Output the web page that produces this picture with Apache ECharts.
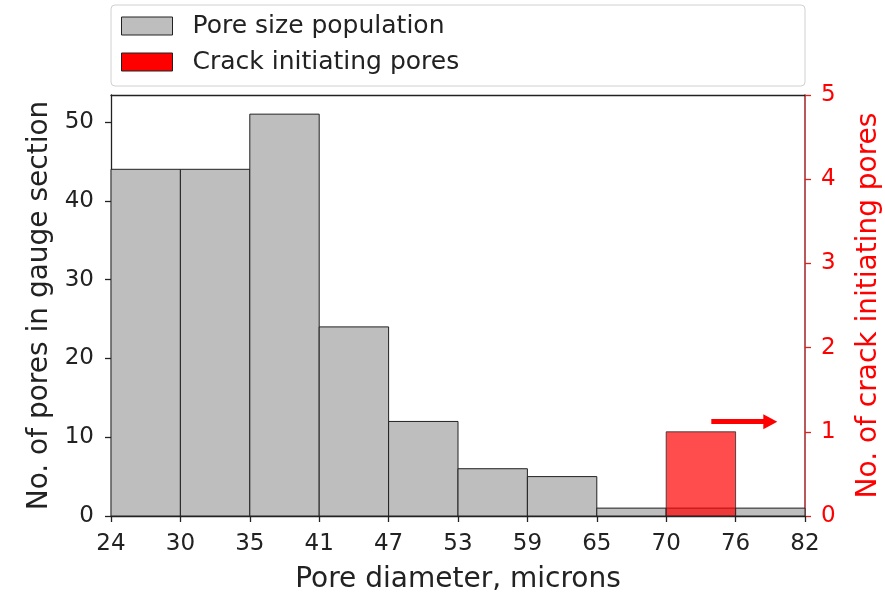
<!DOCTYPE html>
<html>
<head>
<meta charset="utf-8">
<script src="https://cdn.jsdelivr.net/npm/echarts@6/dist/echarts.min.js"></script>
<style>
  html, body { margin: 0; padding: 0; background: #fff; }
  #chart { width: 885px; height: 593px; }
</style>
</head>
<body>
<div id="chart"></div>
<script>
// Histogram bin edges (microns) shown as x tick labels
const binEdges = ['24', '30', '35', '41', '47', '53', '59', '65', '70', '76', '82'];
// Pore counts per bin in the gauge section
const poreCounts = [44, 44, 51, 24, 12, 6, 5, 1, 1, 1];
// Crack initiating pores: [bin index, count]
const crackBins = [[8, 1]];
// Arrow pointing to the right-hand axis (bin-index units, right-axis value)
const arrowFrom = [8.65, 1.12];
const arrowTo = [9.5, 1.12];

const FONT = 'DejaVu Sans';
const chart = echarts.init(document.getElementById('chart'));

function binRect(params, api, yValue) {
  const i = api.value(0);
  const p0 = api.coord([i, 0]);
  const p1 = api.coord([i + 1, yValue]);
  return { x: p0[0], y: p1[1], width: p1[0] - p0[0], height: p0[1] - p1[1] };
}

const option = {
  animation: false,
  textStyle: { fontFamily: FONT },
  grid: { left: 111, right: 80, top: 95, bottom: 77, containLabel: false, outerBoundsMode: 'none' },
  graphic: [{
    type: 'rect',
    shape: { x: 111, y: 5, width: 694, height: 81, r: 4 },
    style: { fill: '#fff', stroke: '#d0d0d0', lineWidth: 1 },
    z: -1
  }],
  legend: {
    left: 121, top: 12, padding: 0,
    orient: 'vertical',
    itemWidth: 51, itemHeight: 18, itemGap: 8,
    icon: 'rect',
    textStyle: { fontFamily: FONT, fontSize: 25, color: '#222', lineHeight: 28, padding: [0, 0, 0, 15] },
    data: [
      { name: 'Pore size population', itemStyle: { color: '#bebebe', borderColor: '#222', borderWidth: 1 } },
      { name: 'Crack initiating pores', itemStyle: { color: '#ff0000', borderColor: '#222', borderWidth: 1 } }
    ]
  },
  xAxis: [{
    type: 'value', min: 0, max: binEdges.length - 1, interval: 1,
    name: 'Pore diameter, microns', nameLocation: 'middle', nameGap: 50,
    nameTextStyle: { fontFamily: FONT, fontSize: 28, color: '#222' },
    axisLine: { onZero: false, lineStyle: { color: '#222', width: 1.3 } },
    axisTick: { show: true, length: 6, lineStyle: { color: '#222', width: 1.3 } },
    axisLabel: { fontFamily: FONT, fontSize: 23, color: '#222', margin: 17,
                 formatter: v => binEdges[Math.round(v)] },
    splitLine: { show: false }
  }, {
    type: 'value', position: 'top', min: 0, max: binEdges.length - 1,
    axisLine: { show: true, onZero: false, lineStyle: { color: '#222', width: 1.3 } },
    axisTick: { show: false }, axisLabel: { show: false }, splitLine: { show: false }
  }],
  yAxis: [{
    type: 'value', min: 0, max: 53.43, interval: 10, position: 'left',
    name: 'No. of pores in gauge section', nameLocation: 'middle', nameGap: 48,
    nameTextStyle: { fontFamily: FONT, fontSize: 28, color: '#222' },
    axisLine: { show: true, onZero: false, lineStyle: { color: '#222', width: 1.3 } },
    axisTick: { show: true, length: 6, lineStyle: { color: '#222', width: 1.3 } },
    axisLabel: { fontFamily: FONT, fontSize: 23, color: '#222', margin: 17,
                 showMaxLabel: false },
    splitLine: { show: false }
  }, {
    type: 'value', min: 0, max: 5, interval: 1, position: 'right',
    name: 'No. of crack initiating pores', nameLocation: 'middle', nameGap: 50,
    nameRotate: 90,
    nameTextStyle: { fontFamily: FONT, fontSize: 28, color: '#ff0000' },
    axisLine: { show: true, onZero: false, lineStyle: { color: '#a83030', width: 1.6 } },
    axisTick: { show: true, length: 6, lineStyle: { color: '#e02020', width: 1.3 } },
    axisLabel: { fontFamily: FONT, fontSize: 23, color: '#ff0000', margin: 16 },
    splitLine: { show: false }
  }],
  series: [{
    name: 'Pore size population',
    type: 'custom',
    xAxisIndex: 0, yAxisIndex: 0,
    data: poreCounts.map((v, i) => [i, v]),
    encode: { x: 0, y: 1 },
    itemStyle: { color: '#bebebe' },
    renderItem: (params, api) => ({
      type: 'rect',
      shape: binRect(params, api, api.value(1)),
      style: { fill: '#bebebe', stroke: '#222', lineWidth: 1 }
    })
  }, {
    name: 'Crack initiating pores',
    type: 'custom',
    xAxisIndex: 0, yAxisIndex: 1,
    data: crackBins,
    encode: { x: 0, y: 1 },
    itemStyle: { color: '#ff0000' },
    renderItem: (params, api) => ({
      type: 'rect',
      shape: binRect(params, api, api.value(1)),
      style: { fill: 'rgba(255,0,0,0.7)', stroke: 'rgba(40,40,40,0.8)', lineWidth: 1 }
    }),
    markLine: {
      silent: true,
      symbol: ['none', 'triangle'],
      symbolSize: [15, 14],
      label: { show: false },
      lineStyle: { color: '#ff0000', width: 5, type: 'solid' },
      emphasis: { disabled: true },
      data: [[{ coord: arrowFrom }, { coord: arrowTo }]]
    }
  }]
};

chart.setOption(option);
</script>
</body>
</html>
